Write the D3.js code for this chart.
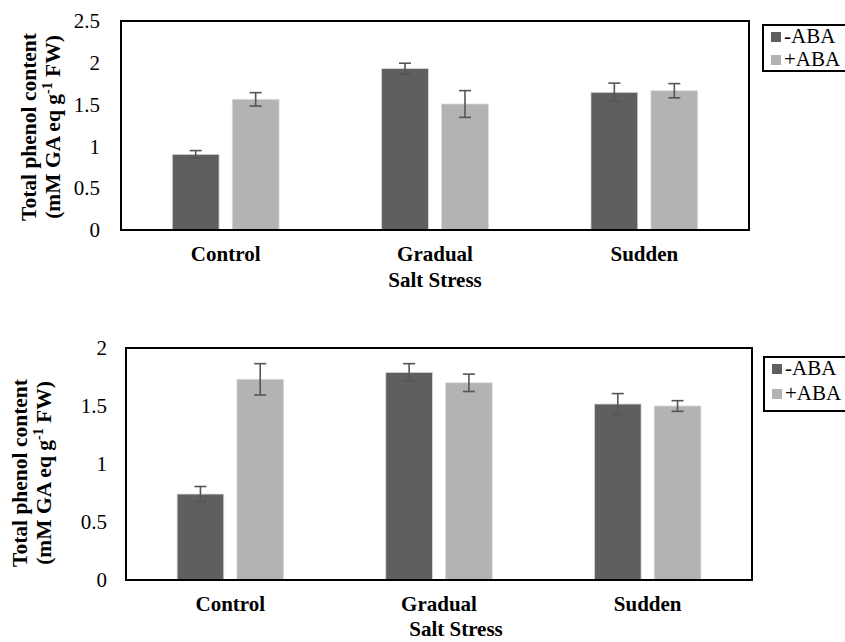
<!DOCTYPE html>
<html>
<head>
<meta charset="utf-8">
<script src="https://cdn.jsdelivr.net/npm/d3@7"></script>
<style>
  body { margin: 0; background: #fff; }
  svg { display: block; }
  text { font-family: "Liberation Serif", "Times New Roman", serif; fill: #000; }
</style>
</head>
<body>
<div id="chart"></div>
<script>
// categories and series
const categories = ["Control", "Gradual", "Sudden"];
const series = ["-ABA", "+ABA"];
const seriesColors = ["#5f5f5f", "#b3b3b3"];

// top panel values (mean, error)
const topMinus = [0.905, 1.93, 1.647];
const topPlus = [1.563, 1.507, 1.666];
const topMinusErr = [0.045, 0.065, 0.11];
const topPlusErr = [0.08, 0.16, 0.085];
const topTicks = [0, 0.5, 1, 1.5, 2, 2.5];

// bottom panel values (mean, error)
const botMinus = [0.741, 1.79, 1.517];
const botPlus = [1.73, 1.70, 1.50];
const botMinusErr = [0.065, 0.075, 0.09];
const botPlusErr = [0.135, 0.075, 0.046];
const botTicks = [0, 0.5, 1, 1.5, 2];

const serif = "Liberation Serif, Times New Roman, serif";

const svg = d3.select("#chart").append("svg")
  .attr("width", 845)
  .attr("height", 642);

function drawPanel(p) {
  const g = svg.append("g");
  const x0 = d3.scaleBand()
    .domain(categories)
    .range([p.left, p.right])
    .paddingInner(0.49)
    .paddingOuter(0.245);
  const x1 = d3.scaleBand()
    .domain(series)
    .range([0, x0.bandwidth()])
    .paddingInner(0.22);
  const y = d3.scaleLinear()
    .domain([0, p.yMax])
    .range([p.bottom, p.top]);

  const rows = [];
  categories.forEach((c, i) => {
    rows.push({ cat: c, s: series[0], v: p.minus[i], e: p.minusErr[i] });
    rows.push({ cat: c, s: series[1], v: p.plus[i], e: p.plusErr[i] });
  });

  // bars
  g.selectAll("rect.bar").data(rows).join("rect")
    .attr("class", "bar")
    .attr("x", d => x0(d.cat) + x1(d.s))
    .attr("y", d => y(d.v))
    .attr("width", x1.bandwidth())
    .attr("height", d => y(0) - y(d.v))
    .attr("fill", d => seriesColors[series.indexOf(d.s)])
    .attr("stroke", "#d9d9d9")
    .attr("stroke-width", 0.8);

  // error bars
  const eb = g.selectAll("g.err").data(rows).join("g")
    .attr("class", "err")
    .attr("stroke", "#555")
    .attr("stroke-width", 1.6);
  const cx = d => x0(d.cat) + x1(d.s) + x1.bandwidth() / 2;
  eb.append("line")
    .attr("x1", cx).attr("x2", cx)
    .attr("y1", d => y(d.v + d.e)).attr("y2", d => y(d.v - d.e));
  eb.append("line")
    .attr("x1", d => cx(d) - 6).attr("x2", d => cx(d) + 6)
    .attr("y1", d => y(d.v + d.e)).attr("y2", d => y(d.v + d.e));
  eb.append("line")
    .attr("x1", d => cx(d) - 6).attr("x2", d => cx(d) + 6)
    .attr("y1", d => y(d.v - d.e)).attr("y2", d => y(d.v - d.e));

  // frame
  g.append("rect")
    .attr("x", p.left).attr("y", p.top)
    .attr("width", p.right - p.left).attr("height", p.bottom - p.top)
    .attr("fill", "none").attr("stroke", "#000").attr("stroke-width", 2);

  // y tick labels
  const yAxis = d3.axisLeft(y).tickValues(p.ticks).tickSize(0).tickPadding(p.tickPad)
    .tickFormat(d => String(d));
  const ya = g.append("g").attr("transform", `translate(${p.left},0)`).call(yAxis);
  ya.select(".domain").remove();
  ya.selectAll("text")
    .attr("font-family", serif)
    .attr("font-size", 21).attr("fill", "#000");

  // category labels
  const xAxis = d3.axisBottom(x0).tickSize(0).tickPadding(0);
  const xa = g.append("g").attr("transform", `translate(0,${p.catY})`).call(xAxis);
  xa.select(".domain").remove();
  xa.selectAll("text")
    .attr("dy", 0)
    .attr("font-family", serif)
    .attr("font-size", 21).attr("font-weight", "bold").attr("fill", "#000");

  // x title
  g.append("text")
    .attr("x", p.xTitleX).attr("y", p.xTitleY)
    .attr("text-anchor", "middle")
    .attr("font-family", serif)
    .attr("font-size", 21).attr("font-weight", "bold")
    .text("Salt Stress");

  // y title
  const yt = g.append("text")
    .attr("transform", `translate(${p.yTitleX},${p.yTitleY}) rotate(-90)`)
    .attr("text-anchor", "middle")
    .attr("font-family", serif)
    .attr("font-size", 21.5).attr("font-weight", "bold");
  yt.append("tspan").attr("x", 0).attr("dy", 0).text("Total phenol content");
  const l2 = yt.append("tspan").attr("x", 0).attr("dy", 24);
  l2.append("tspan").text("(mM GA eq g");
  l2.append("tspan").attr("font-size", 14).attr("dy", -8).text("-1");
  l2.append("tspan").attr("dy", 8).text(" FW)");

  // legend
  const lg = g.append("g");
  lg.append("rect")
    .attr("x", p.legX).attr("y", p.legY)
    .attr("width", 100).attr("height", p.legH)
    .attr("fill", "#fff").attr("stroke", "#000").attr("stroke-width", 2);
  series.forEach((s, i) => {
    lg.append("rect")
      .attr("x", p.legX + 8).attr("y", p.legY + 7 + i * p.legStep)
      .attr("width", 10).attr("height", 10)
      .attr("fill", seriesColors[i]);
    lg.append("text")
      .attr("x", p.legX + 21).attr("y", p.legY + 18 + i * p.legStep)
      .attr("font-family", serif)
      .attr("font-size", 21)
      .text(s);
  });
}

drawPanel({
  left: 121, right: 749, top: 21, bottom: 230, yMax: 2.5,
  ticks: topTicks, tickPad: 21,
  minus: topMinus, plus: topPlus, minusErr: topMinusErr, plusErr: topPlusErr,
  catY: 261, xTitleX: 435, xTitleY: 287,
  yTitleX: 36, yTitleY: 127,
  legX: 763, legY: 25, legH: 46, legStep: 23
});

drawPanel({
  left: 126, right: 752, top: 348, bottom: 580, yMax: 2,
  ticks: botTicks, tickPad: 19,
  minus: botMinus, plus: botPlus, minusErr: botMinusErr, plusErr: botPlusErr,
  catY: 611, xTitleX: 456, xTitleY: 636,
  yTitleX: 27, yTitleY: 473,
  legX: 764, legY: 357, legH: 54, legStep: 25
});
</script>
</body>
</html>
